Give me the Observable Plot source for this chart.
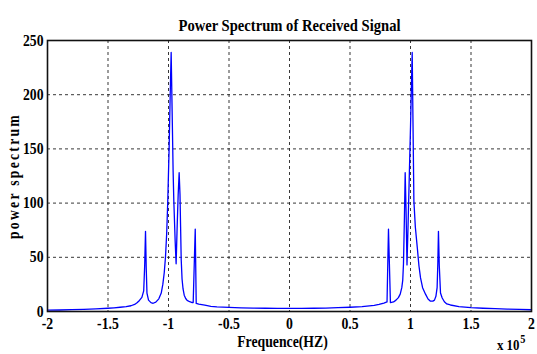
<!DOCTYPE html>
<html>
<head>
<meta charset="utf-8">
<script src="https://cdn.jsdelivr.net/npm/d3@7"></script>
<script src="https://cdn.jsdelivr.net/npm/@observablehq/plot@0.6"></script>
<style>
  html, body { margin: 0; padding: 0; background: white; }
  .ylab text { letter-spacing: 2.6px; }
</style>
</head>
<body>
<div id="chart"></div>
<script>
// Frequency in units of 1e5 Hz
const freq = [
  -2.00, -1.90, -1.80, -1.70, -1.60, -1.50, -1.45, -1.40, -1.35, -1.31, -1.28, -1.26, -1.24, -1.22,
  -1.205, -1.197, -1.190, -1.184, -1.178, -1.165, -1.145, -1.127, -1.105, -1.080, -1.060, -1.047,
  -1.035, -1.025, -1.015, -1.006, -0.995, -0.985, -0.978, -0.970, -0.962, -0.956, -0.945, -0.937,
  -0.928, -0.920, -0.912, -0.905, -0.900, -0.895, -0.888, -0.880, -0.870, -0.858, -0.846, -0.825,
  -0.804, -0.796, -0.779, -0.771, -0.750, -0.700, -0.650, -0.600, -0.500, -0.400, -0.300, -0.200,
  -0.100, 0.000,
  0.100, 0.200, 0.300, 0.400, 0.500, 0.600, 0.700, 0.740, 0.780, 0.806, 0.818, 0.834, 0.860, 0.880,
  0.900, 0.915, 0.928, 0.936, 0.942, 0.950, 0.956, 0.963, 0.971, 0.980, 0.990, 1.000, 1.008, 1.014,
  1.028, 1.040, 1.056, 1.070, 1.083, 1.100, 1.124, 1.145, 1.165, 1.185, 1.198, 1.210, 1.220, 1.226,
  1.231, 1.238, 1.248, 1.262, 1.280, 1.300, 1.330, 1.400, 1.500, 1.600, 1.700, 1.800, 1.900, 2.000
];
const power = [
  1.2, 1.4, 1.7, 2.0, 2.4, 3.0, 3.4, 3.9, 4.5, 5.3, 6.5, 8.0, 10.2, 13.0,
  19, 42, 74, 40, 17, 10.5, 8.2, 7.6, 8.6, 11.7, 17, 25,
  36, 50, 72, 102, 150, 205, 239, 185, 130, 102, 65, 44,
  80, 108, 128, 108, 78, 48, 30, 21, 15, 12, 10.3, 9.0,
  8.3, 8.3, 76, 7.5, 6.8, 5.8, 4.8, 4.3, 3.8, 3.4, 3.2, 3.0,
  2.9, 2.9,
  2.9, 3.0, 3.2, 3.5, 3.9, 4.5, 5.7, 6.6, 7.8, 8.8, 76, 8.2, 8.8, 10.5,
  12.8, 16, 22, 29, 44, 88, 128, 95, 43, 80, 125, 170, 210, 239,
  102, 78, 59, 42, 31, 22, 16, 11.5, 9.5, 9.6, 10.5, 14, 22, 45,
  74, 42, 17, 12.5, 9, 7, 6, 4.5, 3.5, 3.0, 2.6, 2.2, 1.9, 1.6
];
const xTicks = [-2, -1.5, -1, -0.5, 0, 0.5, 1, 1.5, 2];
const yTicks = [0, 50, 100, 150, 200, 250];
const titleText = "Power Spectrum of Received Signal";
const xLabel = "Frequence(HZ)";
const yLabel = "power spectrum";
const xScaleText = "x 10";
const xScaleExp = "5";

const data = freq.map((f, i) => ({f, p: power[i]}));

const font = "'Liberation Serif', 'Times New Roman', serif";

const chart = Plot.plot({
  width: 537,
  height: 354,
  marginLeft: 47,
  marginRight: 6,
  marginTop: 40,
  marginBottom: 43,
  style: {fontFamily: font, fontWeight: "bold", fontSize: "16px", background: "white", color: "black"},
  x: {domain: [-2, 2]},
  y: {domain: [0, 250]},
  marks: [
    Plot.gridX(xTicks, {stroke: "#222", strokeOpacity: 0.9, strokeWidth: 1, strokeDasharray: "3,3"}),
    Plot.gridY(yTicks, {stroke: "#222", strokeOpacity: 0.9, strokeWidth: 1, strokeDasharray: "3,3"}),
    Plot.line(data, {x: "f", y: "p", stroke: "#0000ff", strokeWidth: 1.3}),
    Plot.frame({stroke: "#111", strokeWidth: 1.6}),
    Plot.axisX(xTicks, {tickSize: 0, tickPadding: 6, label: null, tickFormat: d => String(d), fontSize: 16}),
    Plot.axisY(yTicks, {tickSize: 0, tickPadding: 4, label: null, tickFormat: d => String(d), fontSize: 16}),
    Plot.text([titleText], {frameAnchor: "top", dy: -22, text: d => d, fontSize: 17}),
    Plot.text([xLabel], {frameAnchor: "bottom", textAnchor: "middle", dx: -7, dy: 35, text: d => d, fontSize: 16}),
    Plot.text([yLabel], {frameAnchor: "left", textAnchor: "middle", dx: -34, text: d => d, rotate: -90, fontSize: 16, className: "ylab"}),
    Plot.text([xScaleText], {frameAnchor: "bottom-right", dx: -12, dy: 38, textAnchor: "end", text: d => d, fontSize: 15}),
    Plot.text([xScaleExp], {frameAnchor: "bottom-right", dx: -6, dy: 31, textAnchor: "end", text: d => d, fontSize: 12})
  ]
});

chart.querySelectorAll("text").forEach(t => {
  const tr = t.getAttribute("transform") || "";
  t.setAttribute("transform", tr + " scale(0.86,1)");
});

document.getElementById("chart").appendChild(chart);
</script>
</body>
</html>
